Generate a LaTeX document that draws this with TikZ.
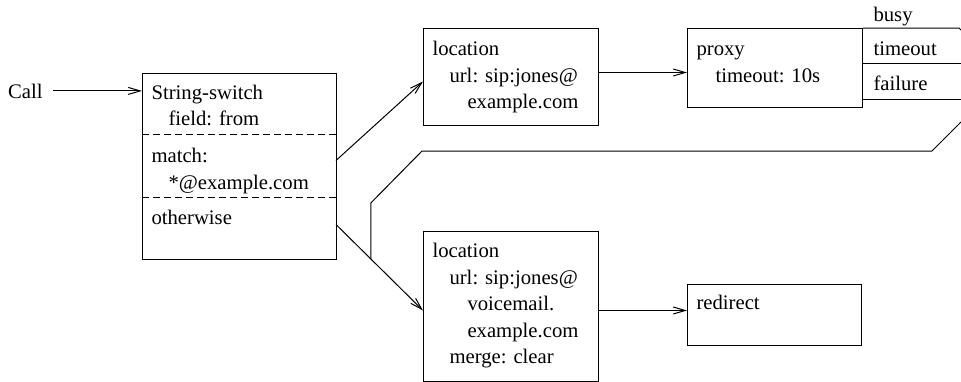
\documentclass[tikz,border=0pt]{standalone}
\usepackage{fontspec}
\setmainfont{Liberation Serif}
\usetikzlibrary{positioning, calc, arrows.meta}

\tikzset{
  every node/.style={font=\fontsize{20.7pt}{26.5pt}\selectfont\frenchspacing},
  box/.style={draw, rectangle, anchor=north west, align=left,
    text width=#1, inner xsep=9pt, inner ysep=0pt},
  part/.style={rectangle, anchor=north west, align=left,
    text width=175pt, inner xsep=9pt, inner ysep=0pt},
  outlabel/.style={anchor=base west, inner sep=0pt},
  flow/.style={->, >={Straight Barb[length=12pt,width=7pt]}},
}

\begin{document}
\begin{tikzpicture}[x=1pt, y=-1pt, line width=1pt]
  \useasboundingbox (0,0) rectangle (961,381);
  % string switch on the caller
  \node[part, text height=25.5pt, text depth=34.5pt] (sw1) at (142,73)
    {String-switch\\\hspace*{17pt}field: from};
  \node[part, text height=28pt, text depth=34pt, below=0pt of sw1] (sw2)
    {match:\\\hspace*{17pt}*@example.com};
  \node[part, text height=27pt, text depth=34pt, below=0pt of sw2] (sw3)
    {otherwise};
  \draw (sw1.north west) rectangle (sw3.south east);
  \draw[dash pattern=on 7pt off 4pt] (sw1.south west) -- (sw1.south east);
  \draw[dash pattern=on 7pt off 4pt] (sw2.south west) -- (sw2.south east);
  \node[anchor=base east, inner xsep=10pt, inner ysep=0pt] (call) at (53,98) {Call};
  \draw[flow] (call.east) -- (call.east -| sw1.west);
  % locations
  \node[box=157pt, text height=27pt, text depth=70pt] (loc1) at (423,28)
    {location\\\hspace*{17pt}url: sip:jones@\\\hspace*{35pt}example.com};
  \node[box=157pt, text height=26pt, text depth=124pt,
    below=105pt of loc1.south west, anchor=north west] (loc2)
    {location\\\hspace*{17pt}url: sip:jones@\\\hspace*{35pt}voicemail.\\
     \hspace*{35pt}example.com\\\hspace*{17pt}merge: clear};
  % proxy and redirect
  \node[box=157pt, text height=27pt, text depth=52pt,
    right=88pt of loc1.north east, anchor=north west] (proxy)
    {proxy\\\hspace*{19pt}timeout: 10s};
  \node[box=156pt, text height=25pt, text depth=36pt,
    below=176pt of proxy.south west, anchor=north west] (redirect)
    {redirect};
  % proxy outputs
  \draw (proxy.north east) -- ++(96,0) -- ++(4,4);
  \draw ([yshift=-35pt]proxy.north east) -- ++(100,0);
  \draw ([yshift=-71pt]proxy.north east) -- ++(100,0);
  \node[outlabel] (busy) at ([xshift=10pt,yshift=7pt]proxy.north east) {busy};
  \node[outlabel] (timeout) at ([xshift=10pt,yshift=-27pt]proxy.north east) {timeout};
  \node[outlabel] (failure) at ([xshift=10pt,yshift=-62pt]proxy.north east) {failure};
  % connectors
  \draw[flow] ([yshift=5pt]sw2.east) -- ([yshift=-4.5pt]loc1.west);
  \draw[flow] ([yshift=3.5pt]sw3.east) -- ([yshift=-4pt]loc2.west);
  \draw[flow] ([yshift=4.5pt]loc1.east) -- ([yshift=4.5pt]loc1.east -| proxy.west);
  \draw[flow] ([yshift=-4pt]loc2.east) -- ([yshift=-4pt]loc2.east -| redirect.west);
  % failure goes back to the otherwise branch
  \coordinate (back) at (961,122);
  \coordinate (join) at ($([yshift=3.5pt]sw3.east)!0.4!([yshift=-4pt]loc2.west)$);
  \draw (back) -- (932,151) -- (422,151) -- (join |- 0,203) -- (join);
\end{tikzpicture}
\end{document}
